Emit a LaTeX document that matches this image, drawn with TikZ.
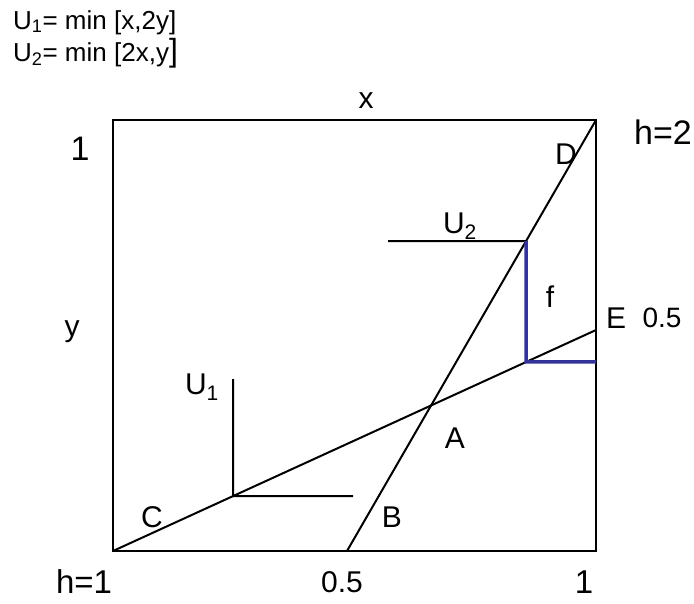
\documentclass[tikz,border=0pt]{standalone}
\usepackage{fontspec}
\setmainfont{Liberation Sans}
\usetikzlibrary{calc}
\definecolor{pathblue}{RGB}{51,51,153}
\begin{document}
\begin{tikzpicture}[x=1pt,y=-1pt,
  ln/.style={line width=2pt,black},
  lab/.style={inner sep=0pt,font=\fontsize{30}{34}\selectfont},
  big/.style={inner sep=0pt,font=\fontsize{34}{38}\selectfont},
  bigb/.style={inner sep=0pt,font=\fontsize{33}{36}\selectfont},
  small/.style={inner sep=0pt,font=\fontsize{28}{32}\selectfont},
  top/.style={inner sep=0pt,anchor=base west,font=\fontsize{26}{30}\selectfont}]
\useasboundingbox (0,0) rectangle (694,603);
% box corners
\coordinate (O) at (113,551);
\coordinate (TL) at (113,120);
\coordinate (TR) at (596,120);
\coordinate (BR) at (596,551);
\coordinate (Bp) at (347,551);
\coordinate (Ep) at (596,330);
\draw[ln] (O) -- (TL) -- (TR) -- (BR) -- cycle;
\draw[ln] (O) -- (Ep);
\draw[ln] (Bp) -- (TR);
% U2 indifference curve
\coordinate (U2h) at (0,241);
\coordinate (U2e) at (700,241);
\coordinate (U2c) at (intersection of Bp--TR and U2h--U2e);
\coordinate (U2l) at (388,241);
\draw[ln] (U2l) -- (U2c);
% blue path
\coordinate (U2d) at ($(U2c)+(0,200)$);
\coordinate (Fc) at (intersection of U2c--U2d and O--Ep);
\coordinate (Fr) at (BR |- Fc);
\draw[line width=3.5pt,pathblue] (U2c) -- (Fc) -- (Fr);
% U1 indifference curve
\coordinate (V1) at (233,0);
\coordinate (V2) at (233,600);
\coordinate (U1c) at (intersection of V1--V2 and O--Ep);
\coordinate (U1t) at (233,379);
\coordinate (U1r) at (353,496);
\draw[ln] (U1t) -- (U1c) -- (U1r |- U1c);
% labels
\node[top] (t1) at (13,29) {U\textsubscript{1}= min [x,2y]};
\node[top] (t2) at (13,61) {U\textsubscript{2}= min [2x,y{\fontsize{32}{32}\selectfont ]}};
\node[lab] (lx) at (366,101) {x};
\node[big] (l1a) at (80,149) {1};
\node[big] (lh2) at (663,132) {h=2};
\node[lab] (lD) at (566,154) {D};
\node[lab] (lU2) at (460,226) {U\textsubscript{2}};
\node[lab] (ly) at (72,332) {y};
\node[lab] (lf) at (550,297) {f};
\node[lab] (lE) at (616,318) {E};
\node[small] (lE5) at (662,318) {0.5};
\node[lab] (lU1) at (202,387) {U\textsubscript{1}};
\node[lab] (lA) at (455,438) {A};
\node[lab] (lC) at (152,517) {C};
\node[lab] (lB) at (392,517) {B};
\node[bigb] (lh1) at (84,582) {h=1};
\node[lab] (l05) at (342,582) {0.5};
\node[bigb] (l1b) at (584,582) {1};
\end{tikzpicture}
\end{document}
